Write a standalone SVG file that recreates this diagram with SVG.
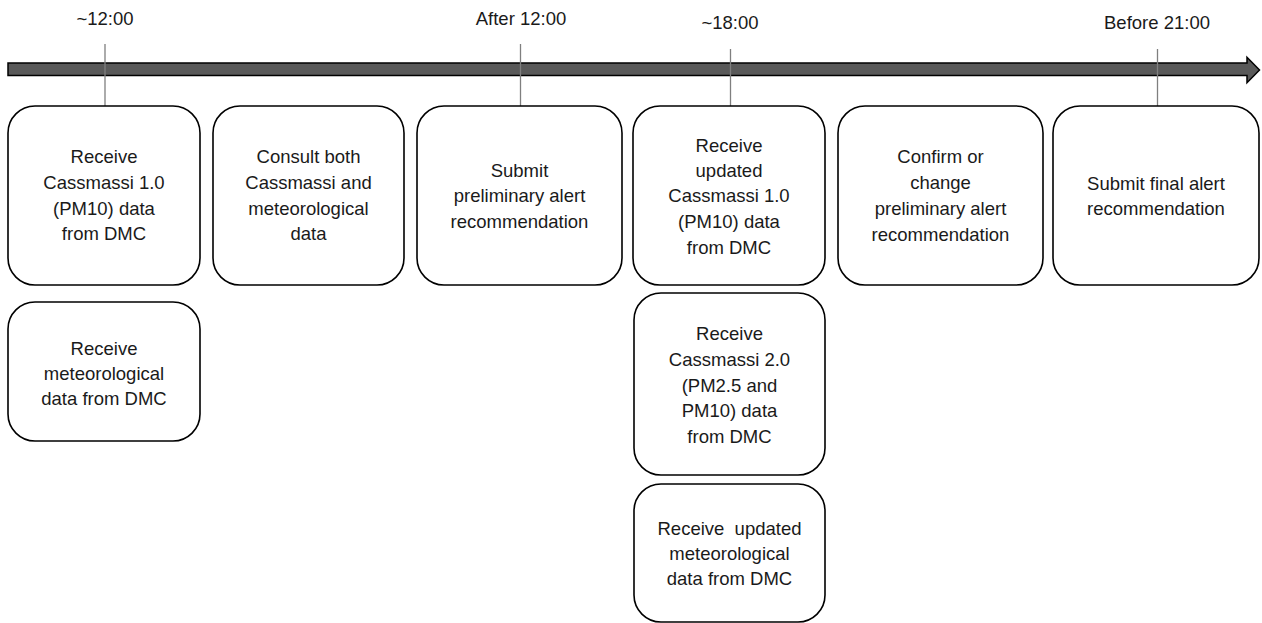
<svg xmlns="http://www.w3.org/2000/svg" width="1262" height="623" viewBox="0 0 1262 623">
<style>
.box{fill:#ffffff;stroke:#000000;stroke-width:1.6}
.t{font-family:"Liberation Sans",Arial,sans-serif;font-size:18.5px;fill:#1a1a1a;text-anchor:middle}
.tick{stroke:#7f7f7f;stroke-width:1.3;fill:none}
.arrow{fill:#595959;stroke:#000000;stroke-width:1.5;stroke-linejoin:miter}
</style>
<rect width="1262" height="623" fill="#ffffff"/>
<g id="timeline">
<path class="arrow" d="M8,63 L1247,63 L1247,57.3 L1259.5,70 L1247,82.7 L1247,75.5 L8,75.5 Z"/>
</g>
<g id="time-labels">
<text class="t" x="105" y="25">~12:00</text>
<text class="t" x="521" y="25">After 12:00</text>
<text class="t" x="730" y="29">~18:00</text>
<text class="t" x="1157" y="29">Before 21:00</text>
</g>
<g id="connectors">
<line class="tick" x1="105" y1="44" x2="105" y2="106"/>
<line class="tick" x1="520.5" y1="44" x2="520.5" y2="106"/>
<line class="tick" x1="730.5" y1="49" x2="730.5" y2="106"/>
<line class="tick" x1="1157.5" y1="49" x2="1157.5" y2="106"/>
</g>
<g id="n1">
<rect class="box" x="8" y="106" width="192" height="179" rx="27"/>
<text class="t" x="104"><tspan x="104" y="163">Receive</tspan><tspan x="104" y="189">Cassmassi 1.0</tspan><tspan x="104" y="215">(PM10) data</tspan><tspan x="104" y="240">from DMC</tspan></text>
</g>
<g id="n1b">
<rect class="box" x="8" y="302" width="192" height="139" rx="27"/>
<text class="t" x="104"><tspan x="104" y="355">Receive</tspan><tspan x="104" y="380">meteorological</tspan><tspan x="104" y="405">data from DMC</tspan></text>
</g>
<g id="n2">
<rect class="box" x="213" y="106" width="191" height="179" rx="27"/>
<text class="t" x="308.5"><tspan x="308.5" y="163">Consult both</tspan><tspan x="308.5" y="189">Cassmassi and</tspan><tspan x="308.5" y="215">meteorological</tspan><tspan x="308.5" y="240">data</tspan></text>
</g>
<g id="n3">
<rect class="box" x="417" y="106" width="205" height="179" rx="27"/>
<text class="t" x="519.5"><tspan x="519.5" y="177">Submit</tspan><tspan x="519.5" y="202">preliminary alert</tspan><tspan x="519.5" y="228">recommendation</tspan></text>
</g>
<g id="n4">
<rect class="box" x="633" y="106" width="192" height="179" rx="27"/>
<text class="t" x="729"><tspan x="729" y="152">Receive</tspan><tspan x="729" y="177">updated</tspan><tspan x="729" y="202">Cassmassi 1.0</tspan><tspan x="729" y="228">(PM10) data</tspan><tspan x="729" y="254">from DMC</tspan></text>
</g>
<g id="n4b">
<rect class="box" x="634" y="293" width="191" height="182" rx="27"/>
<text class="t" x="729.5"><tspan x="729.5" y="340">Receive</tspan><tspan x="729.5" y="366">Cassmassi 2.0</tspan><tspan x="729.5" y="392">(PM2.5 and</tspan><tspan x="729.5" y="417">PM10) data</tspan><tspan x="729.5" y="443">from DMC</tspan></text>
</g>
<g id="n4c">
<rect class="box" x="634" y="484" width="191" height="138" rx="27"/>
<text class="t" x="729.5" xml:space="preserve"><tspan x="729.5" y="535">Receive  updated</tspan><tspan x="729.5" y="560">meteorological</tspan><tspan x="729.5" y="585">data from DMC</tspan></text>
</g>
<g id="n5">
<rect class="box" x="838" y="106" width="205" height="179" rx="27"/>
<text class="t" x="940.5"><tspan x="940.5" y="163">Confirm or</tspan><tspan x="940.5" y="189">change</tspan><tspan x="940.5" y="215">preliminary alert</tspan><tspan x="940.5" y="241">recommendation</tspan></text>
</g>
<g id="n6">
<rect class="box" x="1053" y="106" width="206" height="179" rx="27"/>
<text class="t" x="1156"><tspan x="1156" y="190">Submit final alert</tspan><tspan x="1156" y="215">recommendation</tspan></text>
</g>
</svg>
